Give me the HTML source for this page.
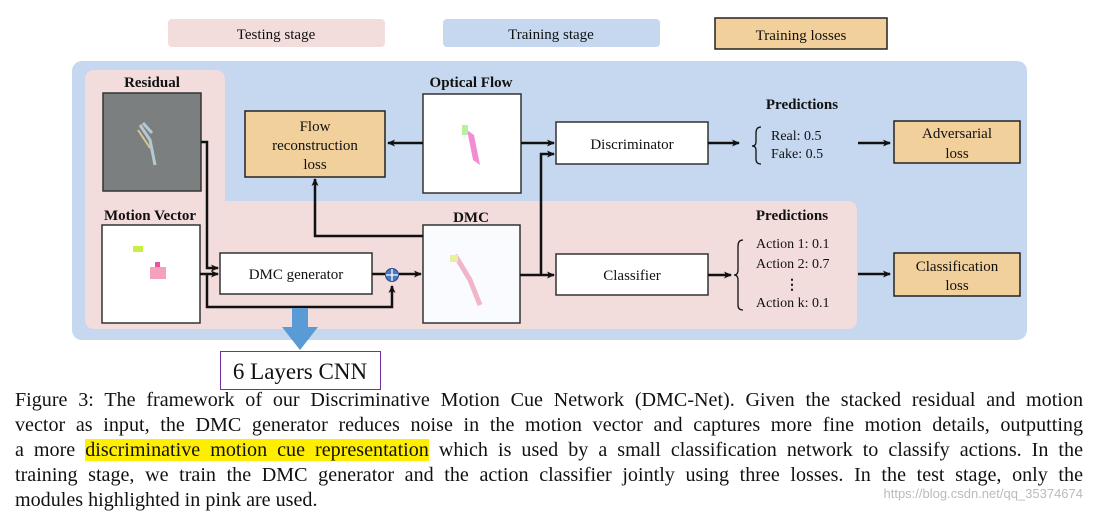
<!DOCTYPE html>
<html><head><meta charset="utf-8"><style>
body{margin:0;width:1093px;height:513px;background:#fff;position:relative;overflow:hidden;font-family:"Liberation Serif",serif}
svg{position:absolute;left:0;top:0}
.cap{position:absolute;left:15px;width:1068px;font-size:20.1px;color:#111;text-align:justify;text-align-last:justify;white-space:nowrap;line-height:22px}
.cap.last{text-align-last:left}
.hl{background:#ffee00}
.wm{position:absolute;right:10px;top:486px;font-family:"Liberation Sans",sans-serif;font-size:13px;color:#bbb}
</style></head><body>
<svg width="1093" height="513" font-family="Liberation Serif, serif" font-size="15" fill="#111">
<defs><marker id="a" markerWidth="8" markerHeight="8" refX="7" refY="4" orient="auto" markerUnits="userSpaceOnUse"><path d="M0,0.5 L8,4 L0,7.5 L2,4 z" fill="#111"/></marker></defs>
<rect x="168" y="19" width="217" height="28" rx="4" fill="#f2dcdc"/>
<text x="276" y="39" text-anchor="middle">Testing stage</text>
<rect x="443" y="19" width="217" height="28" rx="4" fill="#c5d8f0"/>
<text x="551" y="39" text-anchor="middle">Training stage</text>
<rect x="715" y="18" width="172" height="31" fill="#f2d09b" stroke="#222" stroke-width="1.5"/>
<text x="801" y="40" text-anchor="middle">Training losses</text>
<rect x="72" y="61" width="955" height="279" rx="10" fill="#c5d8f0"/>
<path d="M95,70 H215 Q225,70 225,80 V201 H847 Q857,201 857,211 V319 Q857,329 847,329 H95 Q85,329 85,319 V80 Q85,70 95,70 Z" fill="#f2dcdc"/>
<g font-weight="bold" font-size="15">
<text x="152" y="87" text-anchor="middle">Residual</text>
<text x="150" y="220" text-anchor="middle">Motion Vector</text>
<text x="471" y="87" text-anchor="middle">Optical Flow</text>
<text x="471" y="222" text-anchor="middle">DMC</text>
<text x="802" y="109" text-anchor="middle">Predictions</text>
<text x="792" y="220" text-anchor="middle">Predictions</text>
</g>
<rect x="103" y="93" width="98" height="98" fill="#7c7f80" stroke="#333" stroke-width="1.5"/>
<path d="M140,125 L150,140 L155,165 M143,123 L152,133" stroke="#b5c9d2" stroke-width="3" fill="none"/>
<path d="M138,130 L150,148" stroke="#d8c497" stroke-width="2"/>
<rect x="102" y="225" width="98" height="98" fill="#fff" stroke="#333" stroke-width="1.5"/>
<rect x="133" y="246" width="10" height="6" fill="#c8f040"/>
<rect x="150" y="267" width="16" height="12" fill="#f6a0c0"/>
<rect x="155" y="262" width="5" height="5" fill="#ee50a0"/>
<rect x="423" y="94" width="98" height="99" fill="#fff" stroke="#333" stroke-width="1.5"/>
<path d="M467,130 L473,160 L480,165 L474,135 Z" fill="#f070c8" opacity="0.8"/>
<rect x="462" y="125" width="6" height="10" fill="#b8f0a0"/>
<rect x="423" y="225" width="97" height="98" fill="#fafbff" stroke="#333" stroke-width="1.5"/>
<path d="M455,255 L470,280 L480,305" stroke="#f2b4c8" stroke-width="5" fill="none"/>
<rect x="450" y="255" width="8" height="7" fill="#e8f0a0"/>
<rect x="245" y="111" width="140" height="66" fill="#f2d09b" stroke="#222" stroke-width="1.5"/>
<text x="315" y="131" text-anchor="middle">Flow</text>
<text x="315" y="150" text-anchor="middle">reconstruction</text>
<text x="315" y="169" text-anchor="middle">loss</text>
<rect x="220" y="253" width="152" height="41" fill="#fff" stroke="#333" stroke-width="1.5"/>
<text x="296" y="279" text-anchor="middle">DMC generator</text>
<rect x="556" y="122" width="152" height="42" fill="#fff" stroke="#333" stroke-width="1.5"/>
<text x="632" y="149" text-anchor="middle">Discriminator</text>
<rect x="556" y="254" width="152" height="41" fill="#fff" stroke="#333" stroke-width="1.5"/>
<text x="632" y="280" text-anchor="middle">Classifier</text>
<rect x="894" y="121" width="126" height="42" fill="#f2d09b" stroke="#222" stroke-width="1.5"/>
<text x="957" y="138" text-anchor="middle">Adversarial</text>
<text x="957" y="158" text-anchor="middle">loss</text>
<rect x="894" y="253" width="126" height="43" fill="#f2d09b" stroke="#222" stroke-width="1.5"/>
<text x="957" y="271" text-anchor="middle">Classification</text>
<text x="957" y="290" text-anchor="middle">loss</text>
<g font-size="14">
<text x="771" y="140">Real: 0.5</text>
<text x="771" y="158">Fake: 0.5</text>
<text x="756" y="248">Action 1: 0.1</text>
<text x="756" y="268">Action 2: 0.7</text>
<text x="785" y="289" font-weight="bold">⋮</text>
<text x="756" y="307">Action k: 0.1</text>
</g>
<g fill="none" stroke="#111" stroke-width="1.3">
<path d="M761,127 Q756,127 756,133 V142 Q756,146 752,146 Q756,146 756,150 V159 Q756,164 761,164"/>
<path d="M743,240 Q738,240 738,246 V270 Q738,275 734,275 Q738,275 738,280 V305 Q738,310 743,310"/>
</g>
<g fill="none" stroke="#111" stroke-width="2.5">
<path d="M201,142 H207 V268 H218" marker-end="url(#a)"/>
<path d="M200,274 H218" marker-end="url(#a)"/>
<path d="M207,274 V307 H392 V286" marker-end="url(#a)"/>
<path d="M372,274 H385"/>
<path d="M399,274 H421" marker-end="url(#a)"/>
<path d="M423,143 H388" marker-end="url(#a)"/>
<path d="M423,236 H315 V179" marker-end="url(#a)"/>
<path d="M521,143 H554" marker-end="url(#a)"/>
<path d="M520,275 H554" marker-end="url(#a)"/>
<path d="M541,275 V154 H554" marker-end="url(#a)"/>
<path d="M708,143 H739" marker-end="url(#a)"/>
<path d="M708,275 H731" marker-end="url(#a)"/>
<path d="M858,143 H890" marker-end="url(#a)"/>
<path d="M858,274 H890" marker-end="url(#a)"/>
</g>
<circle cx="392" cy="275" r="6.5" fill="#4a78c0" stroke="#2a4a80" stroke-width="1"/>
<path d="M386,275 H398 M392,269 V281" stroke="#fff" stroke-width="1.3"/>
<path d="M292,308 H308 V327 H318 L300,350 L282,327 H292 Z" fill="#5b9bd5"/>
<rect x="220.5" y="351.5" width="160" height="38" fill="#fff" stroke="#7030a0" stroke-width="1"/>
<text x="300" y="379" text-anchor="middle" font-size="23">6 Layers CNN</text>
</svg>
<div class="cap" style="top:389px">Figure 3: The framework of our Discriminative Motion Cue Network (DMC-Net). Given the stacked residual and motion</div>
<div class="cap" style="top:414px">vector as input, the DMC generator reduces noise in the motion vector and captures more fine motion details, outputting</div>
<div class="cap" style="top:439px">a more <span class="hl">discriminative motion cue representation</span> which is used by a small classification network to classify actions. In the</div>
<div class="cap" style="top:464px">training stage, we train the DMC generator and the action classifier jointly using three losses. In the test stage, only the</div>
<div class="cap last" style="top:489px">modules highlighted in pink are used.</div>
<div class="wm">https://blog.csdn.net/qq_35374674</div>
</body></html>
